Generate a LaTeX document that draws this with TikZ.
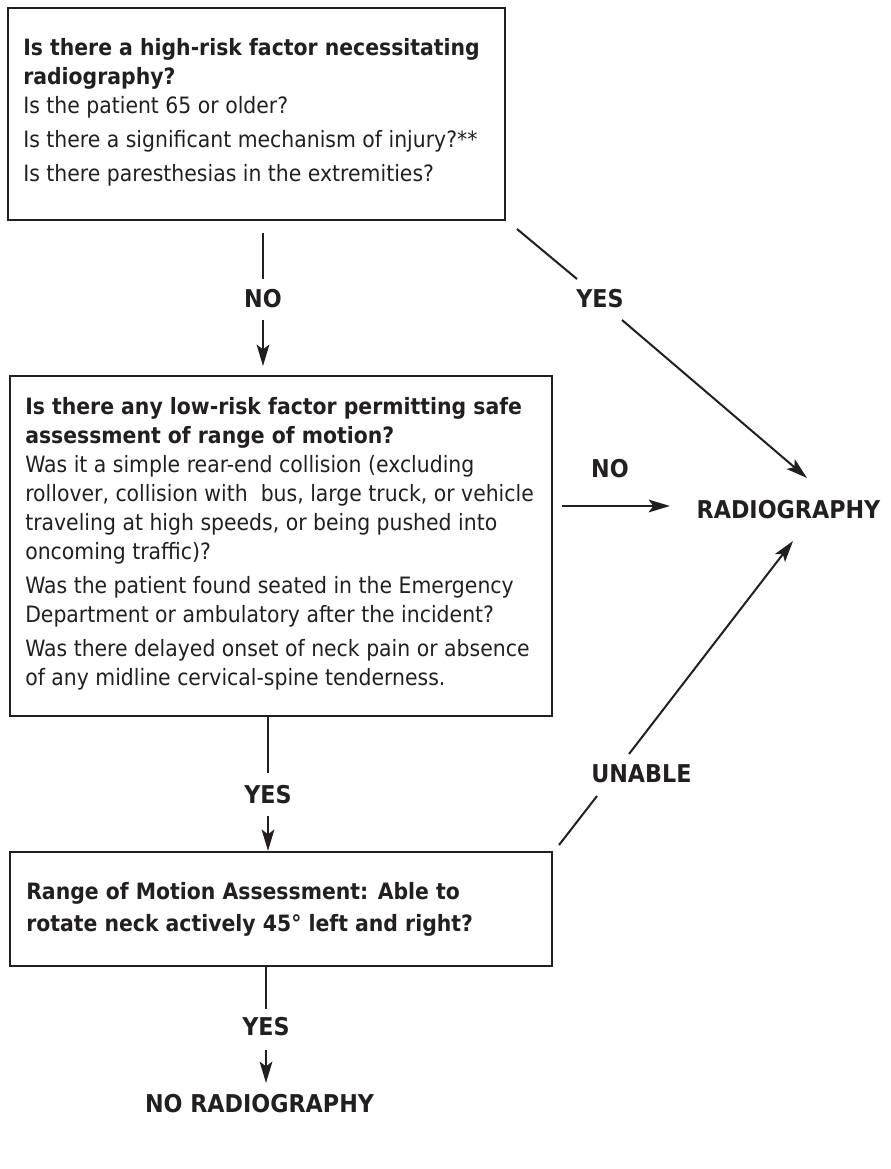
\documentclass[tikz,border=0pt]{standalone}
\usepackage{fontspec}
\setmainfont[FakeStretch=0.907]{DejaVu Sans}
\usetikzlibrary{arrows.meta,fit}
\definecolor{ink}{RGB}{35,31,32}
\newcommand\bodyfnt{\fontsize{16.875}{21.75}\selectfont}
\newcommand\labfnt{\fontsize{18.4}{21}\selectfont\bfseries}
\tikzset{
  boxst/.style={draw=ink, line width=1.7pt, inner sep=0pt},
  txt/.style={anchor=base west, inner sep=0pt, text=ink, font=\bodyfnt},
  lab/.style={anchor=base, inner sep=0pt, text=ink, font=\labfnt},
  conn/.style={draw=ink, line width=1.5pt},
  arr/.style={conn, -{Stealth[length=16pt,width=9.5pt,inset=3.5pt]}},
}
\begin{document}
\begin{tikzpicture}[x=0.75pt,y=-0.75pt]
\useasboundingbox (0,0) rectangle (890,1169);
% boxes
\coordinate (b1nw) at (8,8);   \coordinate (b1se) at (505,220);
\coordinate (b2nw) at (10,376); \coordinate (b2se) at (552,716);
\coordinate (b3nw) at (10,852); \coordinate (b3se) at (552,966);
\node[boxst, fit=(b1nw)(b1se)] (box1) {};
\node[boxst, fit=(b2nw)(b2se)] (box2) {};
\node[boxst, fit=(b3nw)(b3se)] (box3) {};
% box texts
\node[txt] (t1) at (23,56) {\parbox[t]{420pt}{\raggedright
  \textbf{Is there a high-risk factor necessitating}\\
  \textbf{radiography?}\\
  Is the patient 65 or older?\\[3.75pt]
  Is there a significant mechanism of injury?**\\[3.75pt]
  Is there paresthesias in the extremities?}};
\node[txt] (t2) at (25,414) {\parbox[t]{420pt}{\raggedright
  \textbf{Is there any low-risk factor permitting safe}\\
  \textbf{assessment of range of motion?}\\
  Was it a simple rear-end collision (excluding\\
  rollover, collision with~ bus, large truck, or vehicle\\
  traveling at high speeds, or being pushed into\\
  oncoming traffic)?\\[3.75pt]
  Was the patient found seated in the Emergency\\
  Department or ambulatory after the incident?\\[3.75pt]
  Was there delayed onset of neck pain or absence\\
  of any midline cervical-spine tenderness.}};
\node[txt] (t3) at (26,899) {\parbox[t]{420pt}{\raggedright\bfseries
  Range of Motion Assessment: Able to\\[2.25pt]
  rotate neck actively 45° left and right?}};
% labels
\node[lab] (no1) at (263,307) {NO};
\node[lab] (yes1) at (600,307) {YES};
\node[lab] (no2) at (610,477) {NO};
\node[lab] (rad) at (788.5,518) {RADIOGRAPHY};
\node[lab, anchor=base west] (unable) at (591,782) {UNABLE};
\node[lab] (yes2) at (268,803) {YES};
\node[lab] (yes3) at (266,1035) {YES};
\node[lab] (norad) at (259.5,1112) {NO RADIOGRAPHY};
% connector end points
\coordinate (c1a) at (263,233);  \coordinate (c1b) at (263,279);
\coordinate (c1c) at (263,320);  \coordinate (c1d) at (263,366);
\coordinate (c2a) at (517,229);  \coordinate (c2b) at (577,279);
\coordinate (c2c) at (622,320);  \coordinate (c2d) at (807,478);
\coordinate (c3a) at (562,506);  \coordinate (c3d) at (670,506);
\coordinate (c4b) at (268,773);  \coordinate (c4c) at (268,816);
\coordinate (c5a) at (559,845);  \coordinate (c5b) at (597,796);
\coordinate (c5c) at (629,754);  \coordinate (c5d) at (793,541);
\coordinate (c6b) at (266,1009); \coordinate (c6c) at (266,1050);
\coordinate (c6d) at (266,1083);
% connectors
\draw[conn] (c1a) -- (c1b);
\draw[arr] (c1c) -- (c1d);
\draw[conn] (c2a) -- (c2b);
\draw[arr] (c2c) -- (c2d);
\draw[arr] (c3a) -- (c3d);
\draw[conn] (box2.south -| c4b) -- (c4b);
\draw[arr] (c4c) -- (box3.north -| c4c);
\draw[conn] (c5a) -- (c5b);
\draw[arr] (c5c) -- (c5d);
\draw[conn] (box3.south -| c6b) -- (c6b);
\draw[arr] (c6c) -- (c6d);
\end{tikzpicture}
\end{document}
